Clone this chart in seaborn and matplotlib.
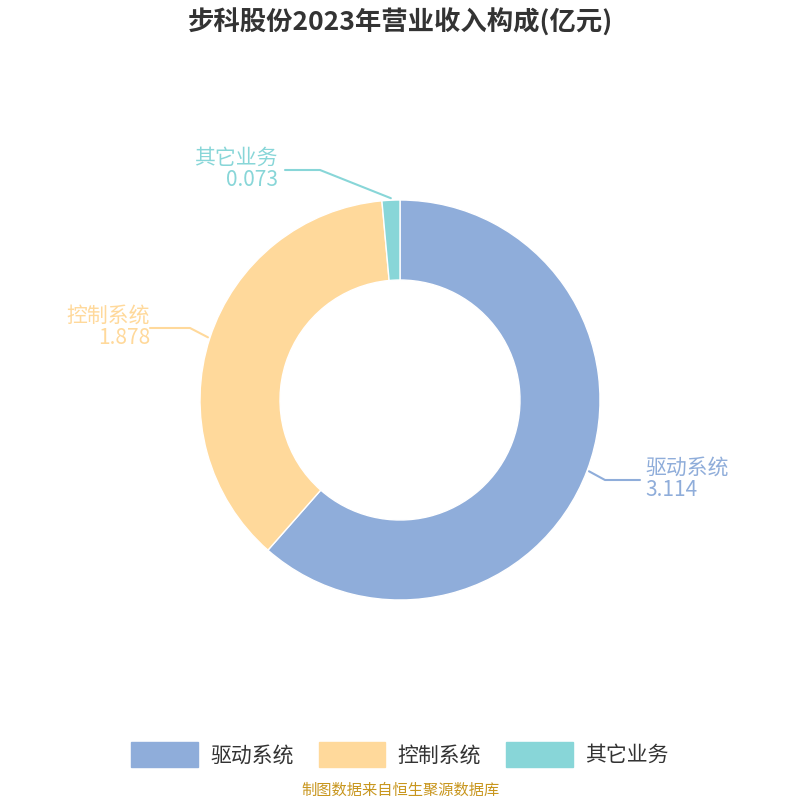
import numpy as np
import matplotlib
matplotlib.use('Agg')
import matplotlib.pyplot as plt
import seaborn as sns
from matplotlib.patches import Patch

categories = ['驱动系统', '控制系统', '其它业务']
values = [3.114, 1.878, 0.073]
colors = ['#8FADDA', '#FFD99B', '#88D6D8']
title = '步科股份2023年营业收入构成(亿元)'
source = '制图数据来自恒生聚源数据库'

sns.set_theme(style='white')
plt.rcParams['font.family'] = ['Noto Sans CJK SC', 'DejaVu Sans']

fig = plt.figure(figsize=(8, 8), dpi=100)
ax = fig.add_axes([0, 0, 1, 1])
ax.set_xlim(0, 800)
ax.set_ylim(0, 800)
ax.set_aspect('equal')
ax.axis('off')

cx, cy, R = 400, 400, 200
wedges, _ = ax.pie(values, colors=colors, startangle=90, counterclock=False,
                   radius=R, center=(cx, cy), frame=True,
                   wedgeprops=dict(width=80, edgecolor='white', linewidth=1))
ax.set_xlim(0, 800)
ax.set_ylim(0, 800)
ax.axis('off')

# label placement: (elbow dx, elbow dy, text x, align)
layout = [
    dict(elbow=(605, 320), end=(640, 320), tx=645, ha='left'),
    dict(elbow=(190, 472), end=(150, 472), tx=150, ha='right'),
    dict(elbow=(320, 630), end=(285, 630), tx=278, ha='right'),
]
for w, cat, val, col, lay in zip(wedges, categories, values, colors, layout):
    ang = np.deg2rad((w.theta1 + w.theta2) / 2)
    p = (cx + (R + 2) * np.cos(ang), cy + (R + 2) * np.sin(ang))
    ex, ey = lay['elbow']
    fx, fy = lay['end']
    ax.plot([p[0], ex, fx], [p[1], ey, fy], color=col, lw=1.5)
    ax.text(lay['tx'], fy + 1, cat, ha=lay['ha'], va='bottom', fontsize=15, color=col)
    ax.text(lay['tx'], fy + 1, f'{val:.3f}', ha=lay['ha'], va='top', fontsize=15, color=col)

fig.text(0.5, 0.972, title, ha='center', va='center', fontsize=19,
         fontweight='bold', color='#333333')
handles = [Patch(facecolor=c, edgecolor=c, label=l) for c, l in zip(colors, categories)]
leg = fig.legend(handles=handles, loc='center', bbox_to_anchor=(0.5, 0.057), ncol=3,
                 frameon=False, fontsize=15, handlelength=3.2, handleheight=1.5,
                 columnspacing=1.2, handletextpad=0.6)
for t in leg.get_texts():
    t.set_color('#333333')
fig.text(0.5, 0.012, source, ha='center', va='center', fontsize=11, color='#C8961E')

fig.savefig('out.png', dpi=100)
